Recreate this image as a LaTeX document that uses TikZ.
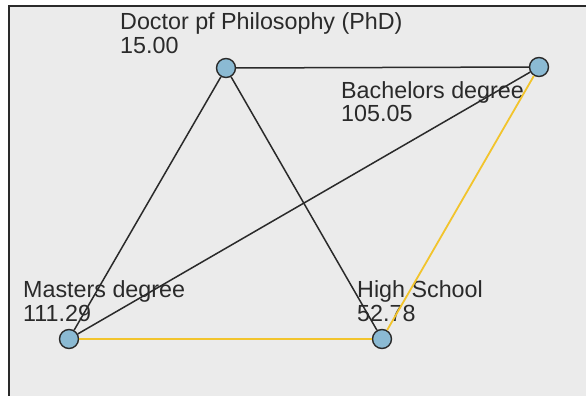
\documentclass[tikz,border=0pt]{standalone}
\usepackage{fontspec}
\setmainfont{Liberation Sans}
\usepackage{tikz}

\definecolor{panelgray}{HTML}{EBEBEB}
\definecolor{vertexblue}{HTML}{8BBAD3}
\definecolor{edgegold}{HTML}{F2C42C}
\definecolor{inkgray}{HTML}{2A2A2A}

\begin{document}
\begin{tikzpicture}[
  x=1pt,
  y=-1pt,
  vertex/.style={
    circle,
    draw=inkgray,
    line width=1.4pt,
    fill=vertexblue,
    minimum size=19pt,
    inner sep=0pt
  },
  vlabel/.style={
    anchor=base west,
    align=left,
    inner sep=0pt,
    text=inkgray,
    font=\fontsize{23.3}{23.5}\selectfont
  },
  edge/.style={
    draw=inkgray,
    line width=1.5pt
  },
  goldedge/.style={
    draw=edgegold,
    line width=1.8pt
  }
]

\useasboundingbox (0,0) rectangle (586,396);
\clip (0,0) rectangle (586,396);
\fill[white] (0,0) rectangle (586,396);
\draw[fill=panelgray,draw=inkgray,line width=1.3pt] (9,6) rectangle (600,410);

% --- vertex labels (anchored on the value line) ---
\node[vlabel] (phdlbl) at (120,53) {Doctor pf Philosophy (PhD)\\15.00};
\node[vlabel] (bachlbl) at (341,121.5) {Bachelors degree\\105.05};
\node[vlabel] (mastlbl) at (23,321) {Masters degree\\111.29};
\node[vlabel] (highlbl) at (357,321) {High School\\52.78};

% --- vertices ---
\node[vertex] (phd) at (226,68) {};
\node[vertex] (bach) at (539,67) {};
\node[vertex] (mast) at (69,339) {};
\node[vertex] (high) at (382,339) {};

% --- edges ---
\draw[edge] (phd) -- (bach);
\draw[edge] (phd) -- (mast);
\draw[edge] (phd) -- (high);
\draw[edge] (bach) -- (mast);
\draw[goldedge] (bach) -- (high);
\draw[goldedge] (mast) -- (high);

\end{tikzpicture}
\end{document}
